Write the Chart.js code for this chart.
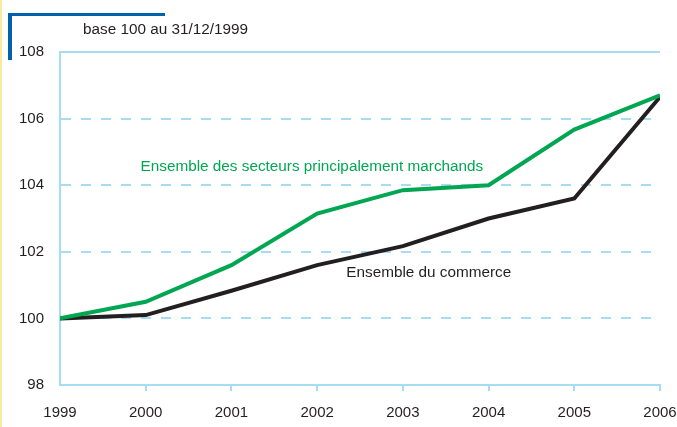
<!DOCTYPE html>
<html lang="fr">
<head>
  <meta charset="UTF-8">
  <title>Ensemble du commerce - base 100</title>
  <script src="https://cdn.jsdelivr.net/npm/chart.js"></script>
  <style>
    html, body {
      margin: 0;
      padding: 0;
      background: #ffffff;
    }
    #wrap {
      position: relative;
      width: 677px;
      height: 427px;
    }
  </style>
</head>
<body>
  <div id="wrap">
    <canvas id="chart" width="677" height="427"></canvas>
  </div>

  <script>
    const years = [1999, 2000, 2001, 2002, 2003, 2004, 2005, 2006];
    const marchands = [100, 100.5, 101.6, 103.15, 103.85, 104.0, 105.67, 106.7];
    const commerce = [100, 100.1, 100.83, 101.6, 102.17, 103.0, 103.6, 106.65];
    const yTicks = [98, 100, 102, 104, 106, 108];

    const baseLabel = "base 100 au 31/12/1999";
    const labelMarchands = "Ensemble des secteurs principalement marchands";
    const labelCommerce = "Ensemble du commerce";

    const green = "#00a651";
    const black = "#231f20";
    const lightBlue = "#a6dcf4";
    const font = "'Liberation Sans', Arial, sans-serif";

    // frame, bracket and the two line labels
    const decorations = {
      id: "decorations",
      beforeDraw(chart) {
        const ctx = chart.ctx;
        ctx.save();
        // thin yellow edge at left
        ctx.fillStyle = "#fbe9a0";
        ctx.fillRect(0, 0, 2, chart.height);
        // blue bracket top-left
        ctx.fillStyle = "#0061ad";
        ctx.fillRect(8, 13, 157, 3);
        ctx.fillRect(8, 13, 4, 47);
        ctx.restore();
      },
      afterDraw(chart) {
        const ctx = chart.ctx;
        const x = chart.scales.x;
        const y = chart.scales.y;
        const area = chart.chartArea;
        ctx.save();
        // top frame line
        ctx.strokeStyle = lightBlue;
        ctx.lineWidth = 2;
        ctx.beginPath();
        ctx.moveTo(area.left, area.top);
        ctx.lineTo(area.right, area.top);
        ctx.stroke();

        ctx.font = "15.3px " + font;
        ctx.textBaseline = "middle";
        ctx.textAlign = "left";
        ctx.fillStyle = black;
        ctx.fillText(baseLabel, 83, 30);

        ctx.fillStyle = green;
        ctx.fillText(labelMarchands, x.getPixelForValue(1999.94), y.getPixelForValue(104.55));
        ctx.fillStyle = black;
        ctx.fillText(labelCommerce, x.getPixelForValue(2002.34), y.getPixelForValue(101.37));
        ctx.restore();
      }
    };

    const ctx = document.getElementById("chart").getContext("2d");
    new Chart(ctx, {
      type: "line",
      data: {
        datasets: [
          {
            label: labelMarchands,
            data: years.map((yr, i) => ({ x: yr, y: marchands[i] })),
            borderColor: green,
            borderWidth: 4,
            pointRadius: 0,
            tension: 0,
            fill: false
          },
          {
            label: labelCommerce,
            data: years.map((yr, i) => ({ x: yr, y: commerce[i] })),
            borderColor: black,
            borderWidth: 4,
            pointRadius: 0,
            tension: 0,
            fill: false
          }
        ]
      },
      options: {
        responsive: false,
        animation: false,
        layout: {
          padding: { top: 52, right: 17, left: 0, bottom: 0 }
        },
        plugins: {
          legend: { display: false },
          tooltip: { enabled: false }
        },
        scales: {
          x: {
            type: "linear",
            min: 1999,
            max: 2006,
            afterFit(scale) {
              scale.height = 42;
              scale.paddingLeft = 0;
              scale.paddingRight = 0;
            },
            afterBuildTicks(scale) {
              scale.ticks = years.map(v => ({ value: v }));
            },
            ticks: {
              color: black,
              font: { family: font, size: 15 },
              padding: 13,
              maxRotation: 0,
              callback: v => String(v)
            },
            grid: {
              drawOnChartArea: false,
              drawTicks: true,
              tickLength: 6,
              lineWidth: 2,
              color: ctx => ctx.tick && ctx.tick.value === 1999 ? "rgba(0,0,0,0)" : lightBlue
            },
            border: {
              display: true,
              color: lightBlue,
              width: 2
            }
          },
          y: {
            min: 98,
            max: 108,
            afterFit(scale) {
              scale.width = 60;
              scale.paddingTop = 0;
              scale.paddingBottom = 0;
            },
            afterBuildTicks(scale) {
              scale.ticks = yTicks.map(v => ({ value: v }));
            },
            ticks: {
              color: black,
              font: { family: font, size: 15 },
              padding: 16
            },
            grid: {
              drawTicks: false,
              lineWidth: 2,
              color: ctx => (ctx.tick && (ctx.tick.value === 98 || ctx.tick.value === 108)) ? "rgba(0,0,0,0)" : lightBlue
            },
            border: {
              display: true,
              color: lightBlue,
              width: 2,
              dash: [10, 10]
            }
          }
        }
      },
      plugins: [decorations]
    });
  </script>
</body>
</html>
